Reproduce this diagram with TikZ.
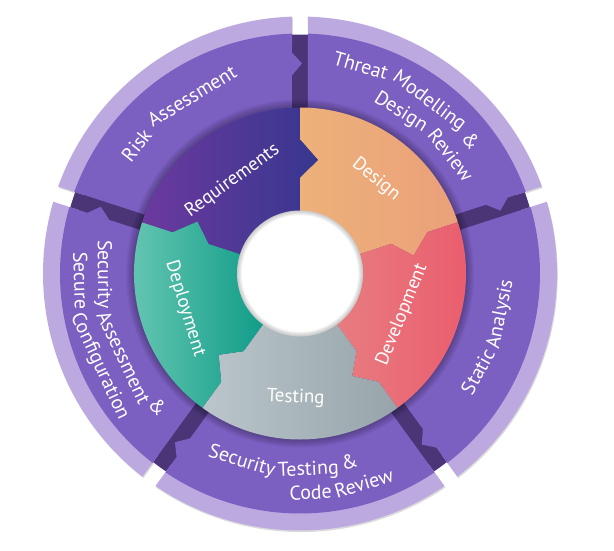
\documentclass[tikz,border=0pt]{standalone}
\usepackage{fontspec}
\setmainfont{PT Sans}

\definecolor{ringpurple}{HTML}{7B5FC1}
\definecolor{gappurple}{HTML}{4B3577}
\definecolor{rimlilac}{HTML}{BBA9E0}
\definecolor{reqL}{HTML}{6C399F}
\definecolor{reqR}{HTML}{37378F}
\definecolor{desL}{HTML}{EDB17A}
\definecolor{desR}{HTML}{EBA07A}
\definecolor{devL}{HTML}{E87D81}
\definecolor{devR}{HTML}{EA5A6C}
\definecolor{tesL}{HTML}{BAC6CC}
\definecolor{tesR}{HTML}{97A4AA}
\definecolor{depL}{HTML}{6BC9B4}
\definecolor{depR}{HTML}{0F9C88}

\newcommand{\innerfont}{\fontsize{19pt}{19pt}\selectfont}
\newcommand{\outerfont}{\fontsize{20pt}{20pt}\selectfont}

% inner phase: start angle, left colour, right colour
\newcommand{\innerpiece}[3]{%
  \pgfmathsetmacro{\endang}{#1-72}
  \shade[left color=#2, right color=#3]
    (#1:166pt) arc[start angle=#1, end angle=\endang, radius=166pt]
    -- (\endang:134pt) -- ({\endang-9}:115pt) -- (\endang:96pt) -- (\endang:58pt)
    arc[start angle=\endang, end angle=#1, radius=58pt]
    -- (#1:96pt) -- ({#1-9}:115pt) -- (#1:134pt) -- cycle;
}
% outer activity: start angle
\newcommand{\outerpiece}[1]{%
  \pgfmathsetmacro{\endang}{#1-72}
  \fill[ringpurple] ({#1-1.91}:240pt)
    arc[start angle={#1-1.91}, end angle={\endang+1.91}, radius=240pt]
    -- ([rotate=\endang]221pt,8pt) -- ([rotate=\endang]210pt,-2pt)
    -- ([rotate=\endang]198pt,8pt) -- ([rotate=\endang]150pt,8pt)
    -- ([rotate=#1]150pt,-8pt) -- cycle;
}
% lilac rim: start angle, style
\newcommand{\rimpiece}[2]{%
  \pgfmathsetmacro{\endang}{#1-72}
  \fill[#2] ({#1-1.78}:257pt)
    arc[start angle={#1-1.78}, end angle={\endang+1.78}, radius=257pt]
    -- ({\endang+2.0}:230pt)
    arc[start angle={\endang+2.0}, end angle={#1-2.0}, radius=230pt] -- cycle;
}

% words round an arc: name, font, centre angle, baseline radius,
% turn (-1 clockwise, tops out; 1 anticlockwise, tops in), words
\newlength{\wordwd}
\newlength{\spacewd}
\newcommand{\measureword}[2]{%
  \pgfinterruptpicture\setbox0=\hbox{#1#2}\global\wordwd=\wd0\relax\endpgfinterruptpicture}
\newcommand{\arcwords}[6]{%
  \pgfinterruptpicture\setbox0=\hbox{#2\global\spacewd=0.85\fontdimen2\font}\endpgfinterruptpicture
  \gdef\arctot{0}%
  \foreach \w in {#6} {%
    \measureword{#2}{\w}%
    \pgfmathsetmacro{\arcnew}{\arctot+\wordwd+\spacewd}%
    \xdef\arctot{\arcnew}}%
  \pgfmathsetmacro{\arcstart}{#3-(#5)*(\arctot-\spacewd)/2/#4*180/pi}%
  \xdef\arcpos{\arcstart}%
  \foreach \w [count=\i] in {#6} {%
    \measureword{#2}{\w}%
    \pgfmathsetmacro{\wordang}{\arcpos+(#5)*\wordwd/2/#4*180/pi}%
    \node[arcword, rotate={\wordang+(#5)*90}] (#1\i) at (\wordang:#4pt) {#2\w};%
    \pgfmathsetmacro{\arcnew}{\arcpos+(#5)*(\wordwd+\spacewd)/#4*180/pi}%
    \xdef\arcpos{\arcnew}}%
}

\begin{document}
\begin{tikzpicture}[
    arcword/.style={text=white, anchor=base, inner sep=0pt},
    rimshadow/.style={black, opacity=0.14, shift={(0.8pt,-1.6pt)}}]

  \useasboundingbox (-300pt,-276.5pt) rectangle (314pt,273.5pt);
  \fill[white] (-300pt,-276.5pt) rectangle (314pt,273.5pt);

  % outer ring
  \foreach \a in {90,18,-54,-126,-198} {\rimpiece{\a}{rimshadow}}
  \fill[gappurple] (0,0) circle[radius=239pt];
  \foreach \a in {90,18,-54,-126,-198} {\rimpiece{\a}{rimlilac}}
  \foreach \a in {90,18,-54,-126,-198} {\outerpiece{\a}}

  % shadow of the inner ring
  \foreach \k in {1,...,8}
    \draw[black, opacity=0.035, line width=\k*2pt] (0,0) circle[radius=166pt];

  % inner ring
  \foreach \a/\cl/\cr in {90/desL/desR, 18/devL/devR, -54/tesL/tesR,
      -126/depL/depR, -198/reqL/reqR}
    {\innerpiece{\a}{\cl}{\cr}}

  % hole
  \fill[white] (0,0) circle[radius=63pt];
  \begin{scope}
    \clip (0,0) circle[radius=63pt];
    \foreach \k in {1,...,6}
      \draw[black, opacity=0.035, line width=\k*1.6pt] (0,0) circle[radius=63pt];
  \end{scope}

  % inner labels
  \arcwords{req}{\innerfont}{126}{110}{-1}{Requirements}
  \arcwords{des}{\innerfont}{51}{116}{-1}{Design}
  \arcwords{dev}{\innerfont}{-22}{115}{1}{Development}
  \arcwords{tes}{\innerfont}{-92}{129}{1}{Testing}
  \arcwords{dep}{\innerfont}{197}{125}{1}{Deployment}

  % outer labels
  \arcwords{risk}{\outerfont}{127}{201}{-1}{Risk,Assessment}
  \arcwords{threat}{\outerfont}{58.5}{210}{-1}{Threat,Modelling,\&}
  \arcwords{review}{\outerfont}{48}{185}{-1}{Design,Review}
  \arcwords{static}{\outerfont}{-18.7}{210}{1}{Static,Analysis}
  \arcwords{sectest}{\outerfont}{-95}{202}{1}{Security,Testing,\&}
  \arcwords{code}{\outerfont}{-79}{226}{1}{Code,Review}
  \arcwords{secass}{\outerfont}{198}{202}{1}{Security,Assessment,\&}
  \arcwords{config}{\outerfont}{197}{226}{1}{Secure,Configuration}
\end{tikzpicture}
\end{document}
